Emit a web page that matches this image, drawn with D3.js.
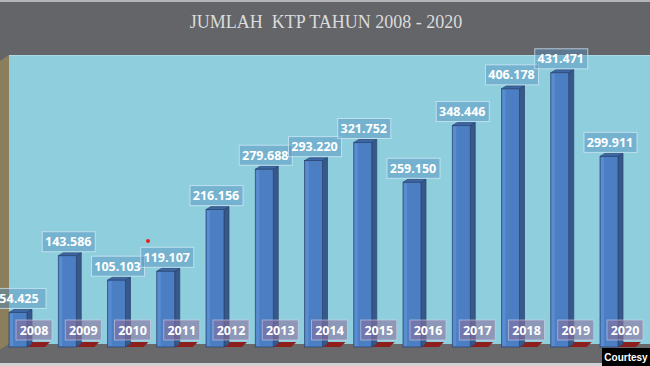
<!DOCTYPE html>
<html>
<head>
<meta charset="utf-8">
<script src="https://cdn.jsdelivr.net/npm/d3@7"></script>
<style>
  body { margin: 0; background: #646569; }
  svg { display: block; }
</style>
</head>
<body>
<div id="chart"></div>
<script>
// data
const years = ["2008", "2009", "2010", "2011", "2012", "2013", "2014", "2015", "2016", "2017", "2018", "2019", "2020"];
const values = [54425, 143586, 105103, 119107, 216156, 279688, 293220, 321752, 259150, 348446, 406178, 431471, 299911];
const title = "JUMLAH  KTP TAHUN 2008 - 2020";

const width = 650, height = 366;
const floorY = 347;
const barW = 18, depth = 5, rise = 3;

const svg = d3.select("#chart").append("svg")
    .attr("width", width)
    .attr("height", height);

// background pieces
svg.append("rect").attr("width", width).attr("height", height).attr("fill", "#646569");
svg.append("rect").attr("width", width).attr("height", 2).attr("fill", "#b4b4b8");
svg.append("rect").attr("x", 9).attr("y", 55).attr("width", width - 9).attr("height", 289).attr("fill", "#8fcedd");
svg.append("rect").attr("x", 9).attr("y", 55).attr("width", width - 9).attr("height", 1).attr("fill", "#a9dbe6");
// left wall
svg.append("polygon")
    .attr("points", "0,61 9,55 9,344 0,350")
    .attr("fill", "#8a7e5c");
// floor
svg.append("polygon")
    .attr("points", "0,350 9,344 650,344 650,363 0,363")
    .attr("fill", "#69696b");
svg.append("rect").attr("x", 0).attr("y", 363).attr("width", width).attr("height", 3).attr("fill", "#d2d2d4");

// title
svg.append("text")
    .attr("x", 326).attr("y", 28)
    .attr("text-anchor", "middle")
    .attr("font-family", "Liberation Serif, serif")
    .attr("font-size", 18)
    .attr("fill", "#dcdcdc")
    .style("white-space", "pre")
    .text(title);

// scales
const x = d3.scalePoint().domain(years).range([18, 609]);
const y = d3.scaleLinear().domain([0, 450000]).range([floorY, 61]);

const fmt = d3.formatLocale({ decimal: ",", thousands: ".", grouping: [3], currency: ["", ""] }).format(",d");

const data = years.map((yr, i) => ({ year: yr, value: values[i] }));

// red floor slabs
svg.append("g").selectAll("polygon")
    .data(data).enter()
    .append("polygon")
    .attr("points", d => {
        const xr = x(d.year) + barW / 2;
        return [[xr, floorY], [xr + 18, floorY], [xr + 23, floorY - 5], [xr + 5, floorY - 5]].join(" ");
    })
    .attr("fill", "#8e1f1c");

// bars (front, side, top)
const bars = svg.append("g").selectAll("g")
    .data(data).enter()
    .append("g");

bars.append("polygon")
    .attr("points", d => {
        const xr = x(d.year) + barW / 2, yt = y(d.value);
        return [[xr, yt], [xr + depth, yt - rise], [xr + depth, floorY - rise], [xr, floorY]].join(" ");
    })
    .attr("fill", "#36598a")
    .attr("stroke", "#2a4470").attr("stroke-width", 0.7);

bars.append("polygon")
    .attr("points", d => {
        const xl = x(d.year) - barW / 2, yt = y(d.value);
        return [[xl, yt], [xl + depth, yt - rise], [xl + barW + depth, yt - rise], [xl + barW, yt]].join(" ");
    })
    .attr("fill", "#3c67a3")
    .attr("stroke", "#2a4470").attr("stroke-width", 0.7);

bars.append("rect")
    .attr("x", d => x(d.year) - barW / 2)
    .attr("y", d => y(d.value))
    .attr("width", barW)
    .attr("height", d => floorY - y(d.value))
    .attr("fill", "#4b7ec3")
    .attr("stroke", "#2a4470").attr("stroke-width", 0.7);

bars.append("rect")
    .attr("x", d => x(d.year) - barW / 2 + 1)
    .attr("y", d => y(d.value) + 1)
    .attr("width", 3)
    .attr("height", d => Math.max(0, floorY - y(d.value) - 2))
    .attr("fill", "#5a8dd0");

// year labels
const yl = svg.append("g").selectAll("g")
    .data(data).enter()
    .append("g")
    .attr("transform", d => `translate(${x(d.year) + 16},330)`);

yl.append("rect")
    .attr("x", -18).attr("y", -10)
    .attr("width", 36).attr("height", 20)
    .attr("fill", "rgba(140,115,160,0.6)")
    .attr("stroke", "rgba(220,215,235,0.55)").attr("stroke-width", 1);

yl.append("text")
    .attr("text-anchor", "middle")
    .attr("dy", "0.36em")
    .attr("font-family", "Open Sans, sans-serif")
    .attr("font-weight", "bold")
    .attr("font-size", 12.5)
    .attr("fill", "#ffffff")
    .text(d => d.year);

// value labels
const vl = svg.append("g").selectAll("g")
    .data(data).enter()
    .append("g")
    .attr("transform", d => `translate(${x(d.year) + 1},${y(d.value) - 14})`);

vl.append("rect")
    .attr("x", -26).attr("y", -10)
    .attr("width", 53).attr("height", 20)
    .attr("fill", "rgba(85,145,190,0.45)")
    .attr("stroke", "rgba(215,238,248,0.7)").attr("stroke-width", 1);

vl.append("text")
    .attr("text-anchor", "middle")
    .attr("dy", "0.36em")
    .attr("font-family", "Open Sans, sans-serif")
    .attr("font-weight", "bold")
    .attr("font-size", 12.5)
    .attr("fill", "#ffffff")
    .text(d => fmt(d.value));

// stray red dot
svg.append("circle").attr("cx", 148).attr("cy", 241).attr("r", 2).attr("fill", "#e8201c");

// courtesy tag
svg.append("rect").attr("x", 602).attr("y", 348).attr("width", 48).attr("height", 18).attr("fill", "#000");
svg.append("text")
    .attr("x", 626).attr("y", 361)
    .attr("text-anchor", "middle")
    .attr("font-family", "Liberation Sans, Arial, sans-serif")
    .attr("font-weight", "bold")
    .attr("font-size", 10)
    .attr("fill", "#fff")
    .text("Courtesy");
</script>
</body>
</html>
